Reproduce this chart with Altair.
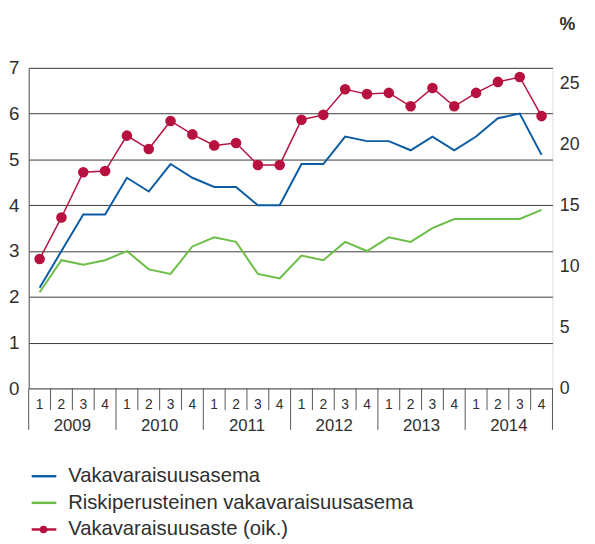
import altair as alt
import pandas as pd

# ---- data ----
years = ["2009", "2010", "2011", "2012", "2013", "2014"]
quarters = ["1", "2", "3", "4"]
series_names = ["Vakavaraisuusasema", "Riskiperusteinen vakavaraisuusasema", "Vakavaraisuusaste (oik.)"]
vakavaraisuusasema = [2.2, 3.0, 3.8, 3.8, 4.6, 4.3, 4.9, 4.6, 4.4, 4.4, 4.0, 4.0,
                      4.9, 4.9, 5.5, 5.4, 5.4, 5.2, 5.5, 5.2, 5.5, 5.9, 6.0, 5.1]
riskiperusteinen = [2.1, 2.8, 2.7, 2.8, 3.0, 2.6, 2.5, 3.1, 3.3, 3.2, 2.5, 2.4,
                    2.9, 2.8, 3.2, 3.0, 3.3, 3.2, 3.5, 3.7, 3.7, 3.7, 3.7, 3.9]
vakavaraisuusaste = [10.6, 14.0, 17.7, 17.8, 20.7, 19.6, 21.9, 20.8, 19.9, 20.1, 18.3, 18.3,
                     22.0, 22.4, 24.5, 24.1, 24.2, 23.1, 24.6, 23.1, 24.2, 25.1, 25.5, 22.3]
left_ticks = [0, 1, 2, 3, 4, 5, 6, 7]
right_ticks = [0, 5, 10, 15, 20, 25]

BLUE = "#0b5ca4"
GREEN = "#6cbe46"
RED = "#b7123f"
TXT = "#2f2f2f"
FONT = "Liberation Sans"

W, H = 531, 325

rows_long, rows_red, rows_q = [], [], []
for yi, yr in enumerate(years):
    for qi, q in enumerate(quarters):
        i = yi * 4 + qi
        rows_long.append({"pos": i + 0.5, "series": series_names[0], "value": vakavaraisuusasema[i]})
        rows_long.append({"pos": i + 0.5, "series": series_names[1], "value": riskiperusteinen[i]})
        rows_red.append({"pos": i + 0.5, "value": vakavaraisuusaste[i]})
        rows_q.append({"pos": i + 0.5, "q": q})
df_long = pd.DataFrame(rows_long)
df_red = pd.DataFrame(rows_red)
df_q = pd.DataFrame(rows_q)
n = len(years) * len(quarters)
df_qdiv = pd.DataFrame({"pos": [i for i in range(1, n) if i % 4 != 0]})
df_ydiv = pd.DataFrame({"pos": list(range(0, n + 1, 4))})
df_year = pd.DataFrame({"pos": [yi * 4 + 2 for yi in range(len(years))], "year": years})

xscale = alt.Scale(domain=[0, n], nice=False, zero=False)
X = alt.X("pos:Q", scale=xscale, axis=None)

left_lines = alt.Chart(df_long).mark_line(strokeWidth=2).encode(
    x=X,
    y=alt.Y("value:Q", scale=alt.Scale(domain=[0, 7], nice=False),
            axis=alt.Axis(orient="left", values=left_ticks, title=None, grid=True,
                          gridColor="#3c3c3c", gridWidth=1, ticks=False, domain=True,
                          domainColor="#555555", labelPadding=10, labelFontSize=19,
                          labelColor=TXT, labelFont=FONT)),
    color=alt.Color("series:N", scale=alt.Scale(domain=series_names[:2], range=[BLUE, GREEN]), legend=None),
    detail="series:N",
)

red_y = alt.Y("value:Q", scale=alt.Scale(domain=[0, 26.25], nice=False),
              axis=alt.Axis(orient="right", values=right_ticks, title=None, grid=False,
                            ticks=False, domain=False, labelPadding=7, labelFontSize=18,
                            labelColor=TXT, labelFont=FONT))
red = alt.Chart(df_red).mark_line(color=RED, strokeWidth=1.5,
                                  point=alt.OverlayMarkDef(color=RED, size=115, opacity=1, filled=True)).encode(
    x=X, y=red_y)

qdiv = alt.Chart(df_qdiv).mark_rule(color="#555555", strokeWidth=1).encode(
    x=X, y=alt.value(H), y2=alt.value(H + 22))
ydiv = alt.Chart(df_ydiv).mark_rule(color="#555555", strokeWidth=1).encode(
    x=X, y=alt.value(H), y2=alt.value(H + 42))
qlab = alt.Chart(df_q).mark_text(fontSize=14, font=FONT, color=TXT, baseline="middle").encode(
    x=X, y=alt.value(H + 17), text="q:N")
ylab = alt.Chart(df_year).mark_text(fontSize=17, font=FONT, color=TXT, baseline="middle").encode(
    x=X, y=alt.value(H + 38), text="year:N")

pct = alt.Chart(pd.DataFrame({"t": ["%"]})).mark_text(
    fontSize=18, font=FONT, fontWeight="bold", color=TXT, align="left", baseline="middle").encode(
    x=alt.value(W + 7), y=alt.value(-43), text="t:N")

legend_layers = []
leg_y = [414, 441, 468]
leg_colors = [BLUE, GREEN, RED]
for k, name in enumerate(series_names):
    d = pd.DataFrame({"name": [name]})
    legend_layers.append(alt.Chart(d).mark_rule(color=leg_colors[k], strokeWidth=2.5).encode(
        x=alt.value(3), x2=alt.value(28), y=alt.value(leg_y[k])))
    if k == 2:
        legend_layers.append(alt.Chart(d).mark_point(color=RED, filled=True, opacity=1, size=60).encode(
            x=alt.value(15), y=alt.value(leg_y[k])))
    legend_layers.append(alt.Chart(d).mark_text(fontSize=20.5, font=FONT, color=TXT, align="left",
                                                 baseline="middle").encode(
        x=alt.value(40), y=alt.value(leg_y[k]), text="name:N"))

chart = alt.layer(left_lines, red, qdiv, ydiv, qlab, ylab, pct, *legend_layers).resolve_scale(
    y="independent", color="independent"
).properties(
    width=W, height=H,
    autosize=alt.AutoSizeParams(type="none"),
    padding={"left": 21, "top": 57, "right": 35, "bottom": 150},
).configure_view(stroke=None).configure(background="white")

chart.save("out.html", embed_options={"renderer": "svg", "actions": False})
